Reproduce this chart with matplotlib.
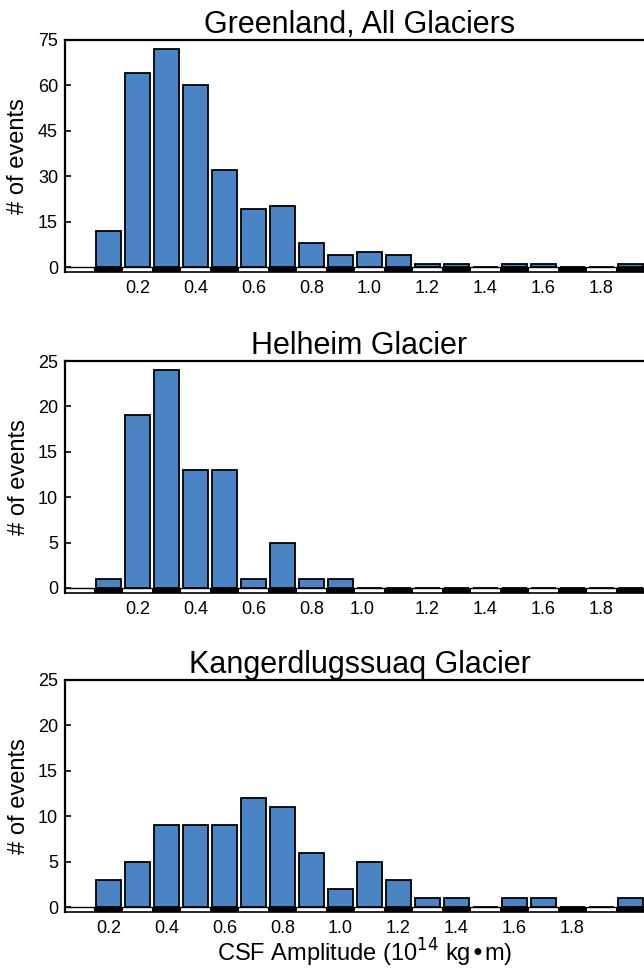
import matplotlib
matplotlib.use("Agg")
import matplotlib.pyplot as plt
from matplotlib.patches import Rectangle

plt.rcParams['font.family'] = ['Liberation Sans', 'DejaVu Sans']

# ---- data ----
titles = ["Greenland, All Glaciers", "Helheim Glacier", "Kangerdlugssuaq Glacier"]
centers_all = [0.1, 0.2, 0.3, 0.4, 0.5, 0.6, 0.7, 0.8, 0.9, 1.0,
               1.1, 1.2, 1.3, 1.4, 1.5, 1.6, 1.7, 1.8, 1.9]
counts_all = [12, 64, 72, 60, 32, 19, 20, 8, 4, 5, 4, 1, 1, 0, 1, 1, 0, 0, 1]
centers_hel = [0.1, 0.2, 0.3, 0.4, 0.5, 0.6, 0.7, 0.8, 0.9, 1.0,
               1.1, 1.2, 1.3, 1.4, 1.5, 1.6, 1.7, 1.8, 1.9]
counts_hel = [1, 19, 24, 13, 13, 1, 5, 1, 1, 0, 0, 0, 0, 0, 0, 0, 0, 0, 0]
centers_kan = [0.2, 0.3, 0.4, 0.5, 0.6, 0.7, 0.8, 0.9, 1.0, 1.1,
               1.2, 1.3, 1.4, 1.5, 1.6, 1.7, 1.8, 1.9, 2.0]
counts_kan = [3, 5, 9, 9, 9, 12, 11, 6, 2, 5, 3, 1, 1, 0, 1, 1, 0, 0, 1]

yticks_all = [0, 15, 30, 45, 60, 75]
yticks_sub = [0, 5, 10, 15, 20, 25]
xtick_labels = ["0.2", "0.4", "0.6", "0.8", "1.0", "1.2", "1.4", "1.6", "1.8"]
xtick_pos_all = [0.2, 0.4, 0.6, 0.8, 1.0, 1.2, 1.4, 1.6, 1.8]
xtick_pos_hel = [0.2, 0.4, 0.6, 0.8, 0.975, 1.2, 1.4, 1.6, 1.8]
xtick_pos_kan = [0.2, 0.4, 0.6, 0.8, 1.0, 1.2, 1.4, 1.6, 1.8]

panels = [
    (titles[0], centers_all, counts_all, yticks_all, xtick_pos_all),
    (titles[1], centers_hel, counts_hel, yticks_sub, xtick_pos_hel),
    (titles[2], centers_kan, counts_kan, yticks_sub, xtick_pos_kan),
]

W, H = 644, 969
fig = plt.figure(figsize=(W / 100, H / 100), dpi=100)

tops = [40, 361, 680]
bottoms = [272, 593, 912]
left_px, right_px = 65, 654
bin_w = 0.1
px_per_bin = 29.0
bar_color = "#4a84c4"

for (title, centers, counts, yticks, xtpos), top, bot in zip(panels, tops, bottoms):
    ax = fig.add_axes([left_px / W, 1 - bot / H, (right_px - left_px) / W, (bot - top) / H])
    ymax = yticks[-1]
    ymin = -5.0 * ymax / (bot - top - 5)
    x0 = centers[0] - 1.5 * bin_w
    x1 = x0 + (right_px - left_px) / px_per_bin * bin_w
    ax.set_xlim(x0, x1)
    ax.set_ylim(ymin, ymax)

    # alternating scale strip below zero
    for i, c in enumerate(centers + [centers[-1] + bin_w]):
        if i % 2 == 0:
            ax.add_patch(Rectangle((c - bin_w / 2, ymin), bin_w, -ymin,
                                   facecolor="black", edgecolor="none", zorder=2))
    ax.axhline(0, color="black", lw=1.0, zorder=3)

    ax.bar(centers, counts, width=0.083, color=bar_color, edgecolor="black",
           linewidth=1.3, zorder=4)

    ax.set_yticks(yticks)
    ax.set_xticks(xtpos)
    ax.set_xticklabels(xtick_labels)
    ax.tick_params(axis="x", length=0, labelsize=13, pad=6)
    ax.tick_params(axis="y", direction="in", length=4, width=1.2, labelsize=13, pad=5)
    for s in ["left", "top"]:
        ax.spines[s].set_linewidth(1.6)
    ax.spines["bottom"].set_linewidth(1.2)
    ax.spines["right"].set_visible(False)
    ax.set_title(title, fontsize=22, pad=4)
    ax.set_ylabel("# of events", fontsize=17, labelpad=6)

ax.set_xlabel("CSF Amplitude (10$^{14}$ kg•m)", fontsize=17)
ax.xaxis.label.set_va("baseline")
ax.xaxis.set_label_coords((365 - left_px) / (right_px - left_px), -(962 - 912) / (912 - 680))

fig.savefig("out.png", dpi=100)
